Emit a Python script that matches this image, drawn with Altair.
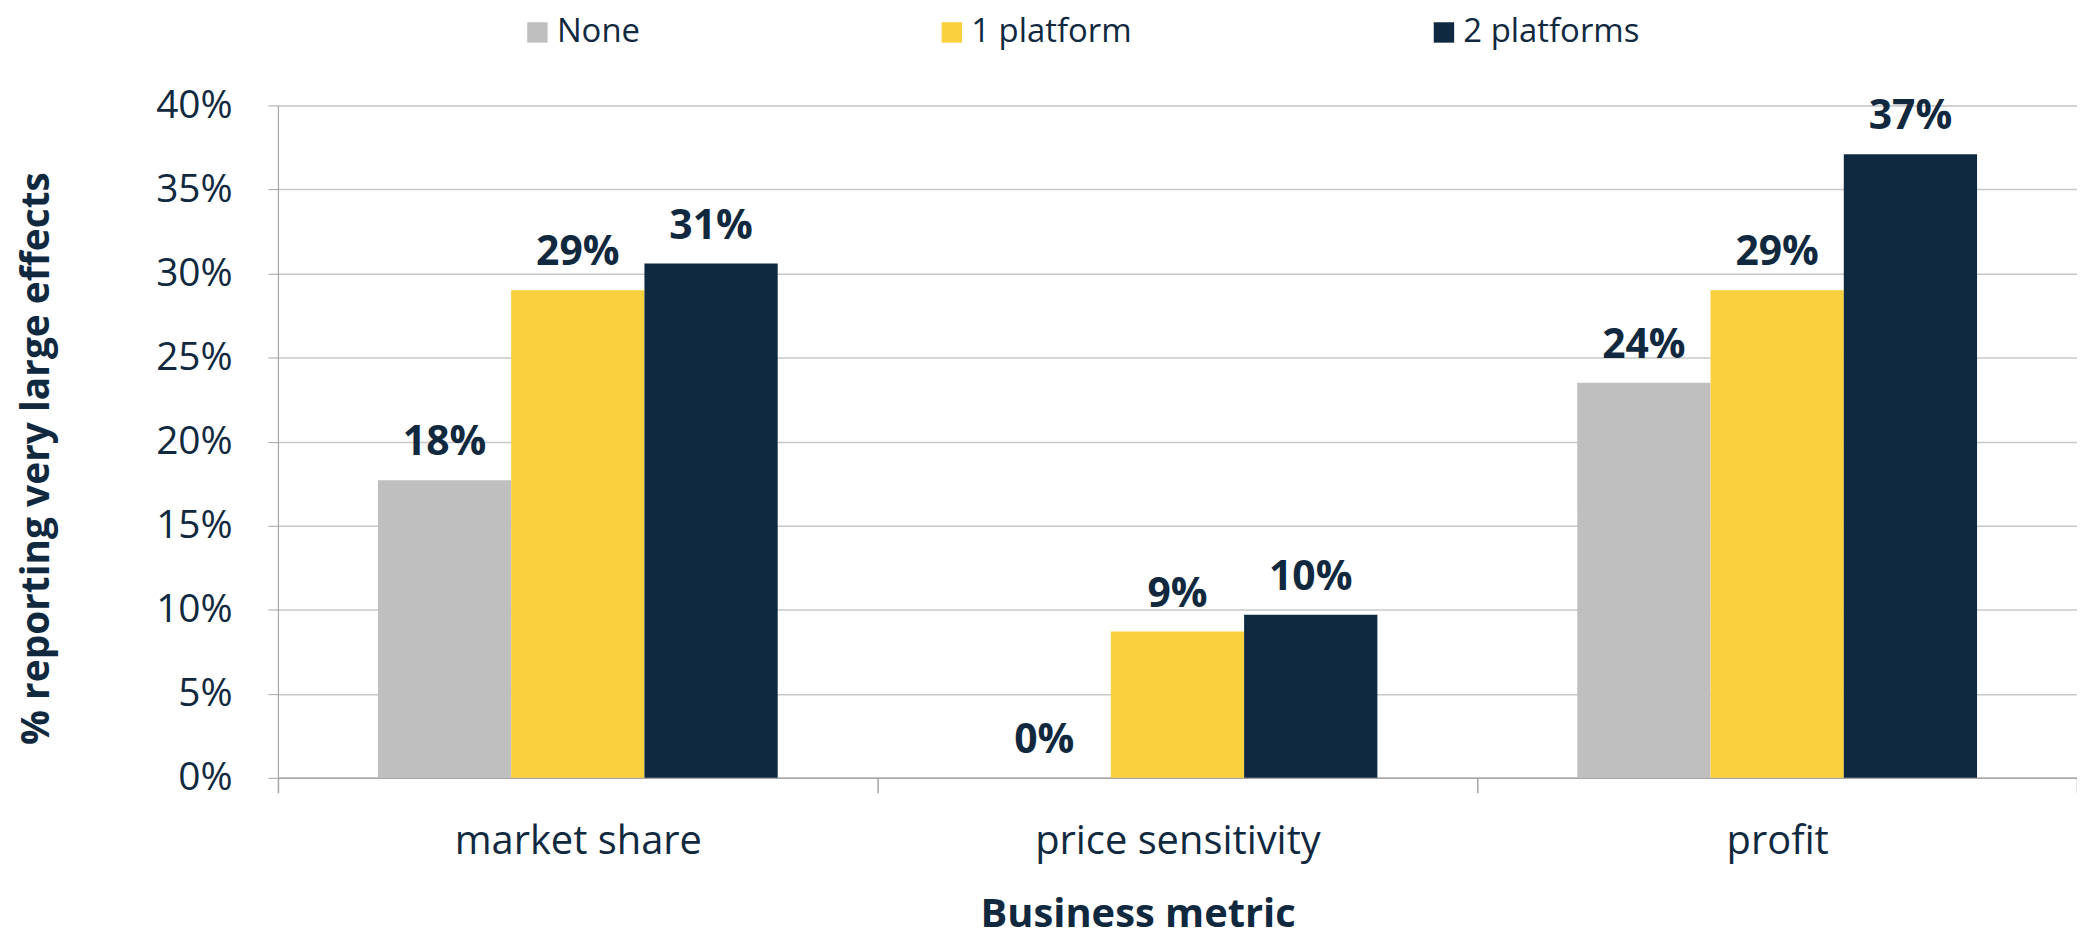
import altair as alt
import pandas as pd

categories = ["market share", "price sensitivity", "profit"]
groups = ["None", "1 platform", "2 platforms"]
none_vals = [17.7, 0.0, 23.5]
one_vals = [29.0, 8.7, 29.0]
two_vals = [30.6, 9.7, 37.1]
colors = ["#bfbfbf", "#f9d03d", "#0f2a40"]
navy = "#10293f"

rows = []
for g, vals in zip(groups, [none_vals, one_vals, two_vals]):
    for c, v in zip(categories, vals):
        rows.append({"metric": c, "group": g, "value": v})
df = pd.DataFrame(rows)

FONT = "Open Sans"

base = alt.Chart(df).transform_calculate(
    label="round(datum.value) + '%'"
).encode(
    x=alt.X(
        "metric:N",
        sort=categories,
        scale=alt.Scale(paddingInner=0, paddingOuter=0),
        axis=alt.Axis(
            title="Business metric",
            labelAngle=0,
            labelFont=FONT,
            labelFontSize=40,
            labelColor=navy,
            labelPadding=29,
            labelLimit=0,
            tickBand="extent",
            tickSize=15,
            tickColor="#a6a6a6",
            tickWidth=1.5,
            domainColor="#a6a6a6",
            domainWidth=1.5,
            grid=False,
            titleFont=FONT,
            titleFontSize=40,
            titleFontWeight="bold",
            titleColor=navy,
            titleBaseline="alphabetic",
            titleLimit=0,
            titleX=863,
            titleY=149,
        ),
    ),
    xOffset=alt.XOffset(
        "group:N", sort=groups, scale=alt.Scale(paddingOuter=0.75, paddingInner=0)
    ),
    y=alt.Y(
        "value:Q",
        scale=alt.Scale(domain=[0, 40]),
        axis=alt.Axis(
            title="% reporting very large effects",
            values=[0, 5, 10, 15, 20, 25, 30, 35, 40],
            labelExpr="datum.value + '%'",
            labelFont=FONT,
            labelFontSize=39,
            labelColor=navy,
            labelPadding=36,
            tickSize=10,
            tickColor="#a6a6a6",
            domainColor="#a6a6a6",
            domainWidth=1.2,
            gridColor="#c8c8c8",
            gridWidth=1.5,
            titleFont=FONT,
            titleFontSize=39,
            titleFontWeight="bold",
            titleColor=navy,
            titleLimit=0,
            titleX=-222,
            titleY=354,
        ),
    ),
)

bars = base.mark_bar().encode(
    color=alt.Color(
        "group:N",
        sort=groups,
        scale=alt.Scale(domain=groups, range=colors),
        legend=alt.Legend(
            title=None,
            orient="none",
            direction="horizontal",
            legendX=244,
            legendY=-90,
            padding=0,
            symbolType="square",
            symbolSize=420,
            symbolStrokeWidth=0,
            labelFont=FONT,
            labelFontSize=33,
            labelColor=navy,
            labelOffset=3,
            labelLimit=0,
            labelBaseline="middle",
            columnPadding=296,
        ),
    )
)

labels = base.mark_text(
    baseline="alphabetic",
    dy=-25,
    font=FONT,
    fontSize=41,
    fontWeight="bold",
    color=navy,
).encode(text="label:N")

chart = alt.layer(bars, labels).properties(
    width=1806,
    height=675,
    autosize=alt.AutoSizeParams(type="none"),
    padding={"left": 271, "top": 96, "right": 0, "bottom": 160},
).configure_view(stroke=None).configure(background="white")

chart.save("out.html", embed_options={"renderer": "svg", "actions": False})
